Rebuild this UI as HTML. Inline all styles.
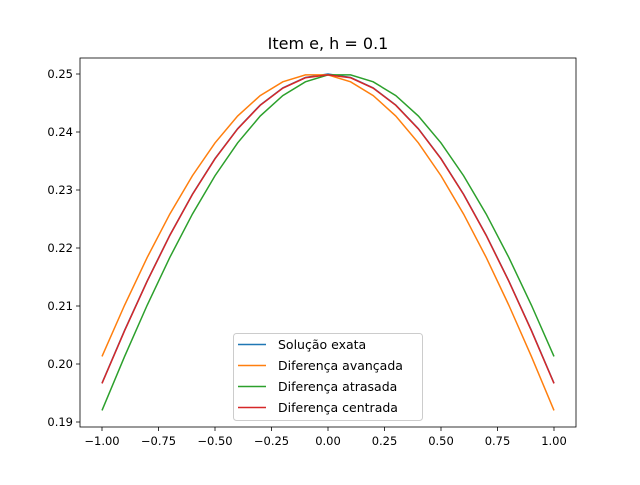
<!DOCTYPE html>
<html><head><meta charset="utf-8"><style>
body{margin:0;background:#fff;font-family:"Liberation Sans","DejaVu Sans",sans-serif}
svg text{font-family:"DejaVu Sans","Liberation Sans",sans-serif}
</style></head><body>
<svg id="c" width="640" height="480">
<rect width="640" height="480" fill="#fff"/>
<text x="328" y="49" text-anchor="middle" font-size="16">Item e, h = 0.1</text>
</svg>
<script>
const xs=[-1,-0.9,-0.8,-0.7,-0.6,-0.5,-0.4,-0.3,-0.2,-0.1,0,0.1,0.2,0.3,0.4,0.5,0.6,0.7,0.8,0.9,1];
const exact=[0.1967,0.2058,0.21433,0.22221,0.22927,0.23542,0.24057,0.24465,0.24761,0.2494,0.25,0.2494,0.24761,0.24465,0.24057,0.23542,0.22927,0.22221,0.21433,0.2058,0.1967];
const forward=[0.2013,0.21015,0.21837,0.22585,0.23246,0.23812,0.24275,0.24628,0.24865,0.24985,0.24985,0.24865,0.24628,0.24275,0.23812,0.23246,0.22585,0.21837,0.21015,0.2013,0.192];
const backward=[0.192,0.2013,0.21015,0.21837,0.22585,0.23246,0.23812,0.24275,0.24628,0.24865,0.24985,0.24985,0.24865,0.24628,0.24275,0.23812,0.23246,0.22585,0.21837,0.21015,0.2013];
const central=[0.19665,0.20575,0.21428,0.22216,0.22922,0.23537,0.24052,0.2446,0.24756,0.24935,0.24985,0.24935,0.24756,0.2446,0.24052,0.23537,0.22922,0.22216,0.21428,0.20575,0.19665];
const xTicks=[-1,-0.75,-0.5,-0.25,0,0.25,0.5,0.75,1];
const xTickLabels=["−1.00","−0.75","−0.50","−0.25","0.00","0.25","0.50","0.75","1.00"];
const yTicks=[0.19,0.20,0.21,0.22,0.23,0.24,0.25];
const yTickLabels=["0.19","0.20","0.21","0.22","0.23","0.24","0.25"];
const seriesNames=["Solução exata","Diferença avançada","Diferença atrasada","Diferença centrada"];
const L=80,R=576,T=58,B=427;
const X=v=>102+(v+1)*226;
const Y=v=>74+(0.25-v)*5800;
const svg=document.getElementById('c');
const NS='http://www.w3.org/2000/svg';
function mk(t,a){const e=document.createElementNS(NS,t);for(const k in a)e.setAttribute(k,a[k]);svg.appendChild(e);return e;}
xTicks.forEach((v,i)=>{
 const t=mk('line',{x1:X(v),x2:X(v),y1:B,y2:B+4,stroke:'#000','stroke-width':0.8});
 
 
 const l=mk('text',{x:X(v),y:B+18,'text-anchor':'middle','font-size':11.5});
 l.textContent=xTickLabels[i];
 
 
});
yTicks.forEach((v,i)=>{
 const t=mk('line',{x1:L-4,x2:L,y1:Y(v),y2:Y(v),stroke:'#000','stroke-width':0.8});
 
 
 const l=mk('text',{x:L-7,y:Y(v)+4,'text-anchor':'end','font-size':11.5});
 l.textContent=yTickLabels[i];
 
 
});
const cols=['#1f77b4','#ff7f0e','#2ca02c','#d62728'];
[exact,forward,backward,central].forEach((s,k)=>{
 const p=mk('polyline',{points:s.map((v,i)=>X(xs[i])+','+Y(v)).join(' '),fill:'none',stroke:cols[k],'stroke-width':1.5});
 
 
});
const fr=mk('rect',{x:L,y:T,width:R-L,height:B-T,fill:'none',stroke:'#000','stroke-width':0.8});


const lg=mk('rect',{x:233.5,y:333.5,width:189,height:87,rx:3,fill:'#fff','fill-opacity':0.8,stroke:'#ccc'});


seriesNames.forEach((n,k)=>{
 const y=344+k*21;
 const ln=mk('line',{x1:238,x2:266,y1:y+0.5,y2:y+0.5,stroke:cols[k],'stroke-width':1.5});
 
 
 const t=mk('text',{x:278,y:y+5,'font-size':12.5});
 t.textContent=n;
 
 
});
</script>
</body></html>
